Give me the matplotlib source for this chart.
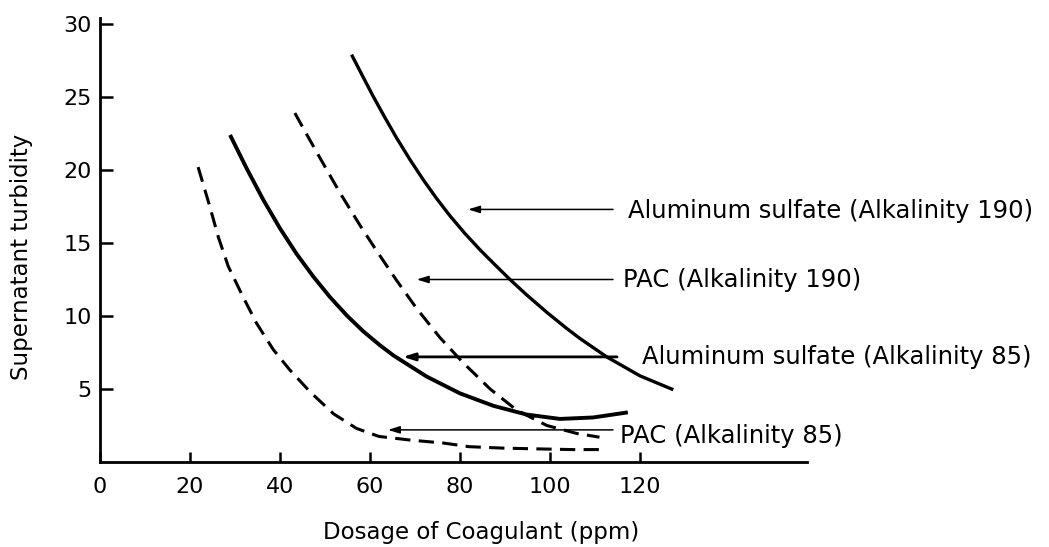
import matplotlib
matplotlib.use("Agg")
import matplotlib.pyplot as plt

plt.rcParams['font.family'] = ['DejaVu Sans']
plt.rcParams['lines.scale_dashes'] = False

# ---- data ----
alum190_x = [55.9, 58.5, 60.7, 63.3, 65.9, 68.9, 71.9, 74.8, 77.8, 81.1, 84.4, 87.8,
             91.1, 94.8, 99.3, 103.7, 106.7, 112.6, 120, 127.4]
alum190_y = [27.9, 26.35, 25.05, 23.6, 22.2, 20.7, 19.3, 18.05, 16.85, 15.65, 14.55, 13.5,
             12.5, 11.45, 10.25, 9.15, 8.45, 7.2, 5.9, 4.95]

pac190_x = [43.3, 46, 49.3, 53.3, 57.8, 61.5, 66, 70.4, 75.6, 80.7, 86.7, 92.6, 99.3, 106, 111]
pac190_y = [23.9, 22.4, 20.6, 18.45, 16.2, 14.45, 12.4, 10.5, 8.5, 6.8, 5.0, 3.55, 2.5, 1.95, 1.7]

alum85_x = [28.9, 32.6, 36.3, 40.0, 43.7, 47.4, 51.1, 54.8, 58.5, 62.2, 65.2, 72.6,
            80, 87.4, 94.8, 102.2, 109.6, 117.3]
alum85_y = [22.4, 20.1, 17.95, 16.0, 14.25, 12.7, 11.3, 10.05, 8.95, 8.0, 7.3, 5.85,
            4.7, 3.85, 3.25, 2.95, 3.05, 3.4]

pac85_x = [21.8, 24.4, 26.3, 28.5, 31.8, 34.8, 38.5, 42.2, 46.7, 51.9, 57, 62, 69, 76.3, 82, 89.6, 97, 105, 111]
pac85_y = [20.2, 17.5, 15.4, 13.4, 11.3, 9.5, 7.7, 6.3, 4.8, 3.3, 2.3, 1.75, 1.5, 1.3, 1.05, 0.95, 0.9, 0.85, 0.85]

labels = ["Aluminum sulfate (Alkalinity 190)", "PAC (Alkalinity 190)",
          "Aluminum sulfate (Alkalinity 85)", "PAC (Alkalinity 85)"]
arrow_y = [17.3, 12.5, 7.2, 2.2]
arrow_tail = [114, 114, 114.9, 114]
arrow_head = [81.8, 70.4, 67.3, 64]
label_x = [117.3, 116.2, 120.4, 115.6]
label_y = [17.2, 12.5, 7.2, 1.8]

x_ticks = [0, 20, 40, 60, 80, 100, 120]
y_ticks = [5, 10, 15, 20, 25, 30]

# ---- figure ----
W, H = 1049, 547
fig = plt.figure(figsize=(W / 100, H / 100), dpi=100)
x0_px, y0_px = 100, 462
px_per_x, px_per_y = 4.5, 14.6
xmax, ymax = 157, 30.4
ax = fig.add_axes([x0_px / W, (H - y0_px) / H, xmax * px_per_x / W, ymax * px_per_y / H])
ax.set_xlim(0, xmax)
ax.set_ylim(0, ymax)

ax.plot(alum190_x, alum190_y, color='black', lw=2.4, solid_capstyle='butt', solid_joinstyle='round')
ax.plot(pac190_x, pac190_y, color='black', lw=2.2, dashes=(11, 6))
ax.plot(alum85_x, alum85_y, color='black', lw=2.8, solid_capstyle='butt', solid_joinstyle='round')
ax.plot(pac85_x, pac85_y, color='black', lw=2.2, dashes=(11, 6))

for i in range(4):
    lw = 2.0 if i == 2 else 1.1
    ax.annotate('', xy=(arrow_head[i], arrow_y[i]), xytext=(arrow_tail[i], arrow_y[i]),
                arrowprops=dict(arrowstyle='-|>,head_length=0.7,head_width=0.22',
                                color='black', lw=lw, shrinkA=0, shrinkB=0))
    ax.text(label_x[i], label_y[i], labels[i], ha='left', va='center', fontsize=17.5)

for s in ['top', 'right']:
    ax.spines[s].set_visible(False)
for s in ['left', 'bottom']:
    ax.spines[s].set_linewidth(2.0)

ax.set_xticks(x_ticks)
ax.set_yticks(y_ticks)
ax.tick_params(axis='y', direction='in', length=9, width=1.8, labelsize=16, pad=6)
ax.tick_params(axis='x', direction='in', length=7, width=1.8, labelsize=16, pad=11)

fig.text(481 / W, 1 - 533 / H, "Dosage of Coagulant (ppm)", ha='center', va='center', fontsize=16.5)
fig.text(22 / W, 1 - 257 / H, "Supernatant turbidity", ha='center', va='center', rotation=90, fontsize=16.5)

fig.savefig("out.png", dpi=100, facecolor='white')
